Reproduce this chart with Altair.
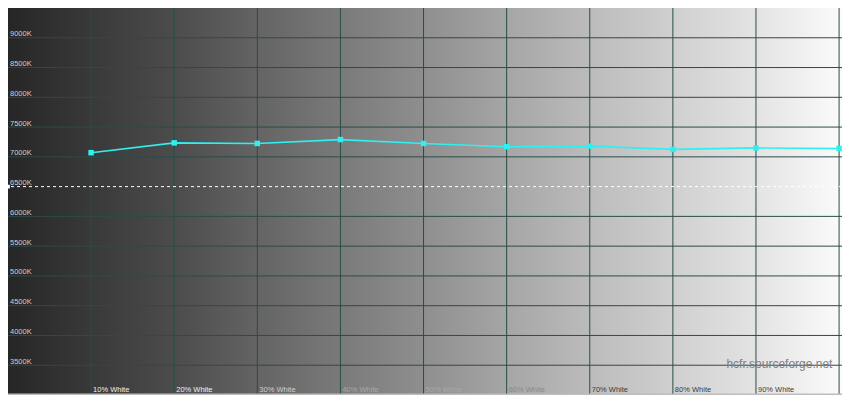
import altair as alt
import pandas as pd

# ---- data ----
levels = [10, 20, 30, 40, 50, 60, 70, 80, 90, 100]
temps = [7070, 7235, 7225, 7290, 7225, 7170, 7180, 7125, 7150, 7140]
y_ticks = [3500, 4000, 4500, 5000, 5500, 6000, 6500, 7000, 7500, 8000, 8500, 9000]
y_labels = [f"{v}K" for v in y_ticks]
x_ticks = [10, 20, 30, 40, 50, 60, 70, 80, 90]
x_labels = [f"{v}% White" for v in x_ticks]
grid_x = [10, 20, 30, 40, 50, 60, 70, 80, 90, 100]
ref_temp = 6500
watermark = "hcfr.sourceforge.net"

W, H = 834, 387
X_MAX = 100.35
Y_MIN, Y_MAX = 3000, 9500

xs = alt.Scale(domain=[0, X_MAX], nice=False, zero=False)
ys = alt.Scale(domain=[Y_MIN, Y_MAX], nice=False, zero=False)

font = "Liberation Sans"

# background gradient
bg_df = pd.DataFrame({"x": [0], "x2": [X_MAX], "y": [Y_MIN], "y2": [Y_MAX]})
grad = alt.Gradient(
    gradient="linear",
    stops=[
        alt.GradientStop(color="#262626", offset=0.0),
        alt.GradientStop(color="#4c4c4c", offset=0.2),
        alt.GradientStop(color="#646464", offset=0.3),
        alt.GradientStop(color="#7a7a7a", offset=0.4),
        alt.GradientStop(color="#8f8f8f", offset=0.5),
        alt.GradientStop(color="#a6a6a6", offset=0.6),
        alt.GradientStop(color="#bcbcbc", offset=0.7),
        alt.GradientStop(color="#d0d0d0", offset=0.8),
        alt.GradientStop(color="#e4e4e4", offset=0.9),
        alt.GradientStop(color="#fbfbfb", offset=1.0),
    ],
    x1=0, x2=1, y1=0, y2=0,
)
bg = alt.Chart(bg_df).mark_rect(fill=grad, strokeWidth=0).encode(
    x=alt.X("x:Q", scale=xs, axis=None),
    x2="x2:Q",
    y=alt.Y("y:Q", scale=ys, axis=None),
    y2="y2:Q",
)

grid_color = "#2b4d47"
vgrid = alt.Chart(pd.DataFrame({"x": grid_x})).mark_rule(
    color=grid_color, strokeWidth=1
).encode(x=alt.X("x:Q", scale=xs, axis=None))

hgrid_df = pd.DataFrame({"y": [v for v in y_ticks if v != ref_temp]})
hgrid = alt.Chart(hgrid_df).mark_rule(color=grid_color, strokeWidth=1).encode(
    y=alt.Y("y:Q", scale=ys, axis=None)
)

bottom = alt.Chart(pd.DataFrame({"y": [Y_MIN]})).mark_rule(
    color="#bdbdbd", strokeWidth=3
).encode(y=alt.Y("y:Q", scale=ys, axis=None))

ref_line = alt.Chart(pd.DataFrame({"y": [ref_temp]})).mark_rule(
    color="#ffffff", strokeWidth=1, strokeDash=[3, 3]
).encode(y=alt.Y("y:Q", scale=ys, axis=None))

ref_mark = alt.Chart(pd.DataFrame({"x": [0], "y": [ref_temp]})).mark_point(
    shape="square", filled=True, size=14, color="#ffffff", opacity=1
).encode(
    x=alt.X("x:Q", scale=xs, axis=None),
    y=alt.Y("y:Q", scale=ys, axis=None),
)

ylab_df = pd.DataFrame({"x": [0] * len(y_ticks), "y": y_ticks, "t": y_labels})
ylab = alt.Chart(ylab_df).mark_text(
    align="left", baseline="alphabetic", dx=2, dy=-1.5,
    font=font, fontSize=7.5, color="#cfcfcf"
).encode(
    x=alt.X("x:Q", scale=xs, axis=None),
    y=alt.Y("y:Q", scale=ys, axis=None),
    text="t:N",
)

xlab_df = pd.DataFrame({"x": x_ticks, "y": [Y_MIN] * len(x_ticks), "t": x_labels})
xlab = alt.Chart(xlab_df).transform_calculate(
    lc="datum.x <= 20 ? '#f0f0f0' : datum.x <= 30 ? '#d0d0d0' : datum.x <= 50 ? '#a8a8a8' : datum.x <= 60 ? '#8a8a8a' : '#3c3c3c'"
).mark_text(
    align="left", baseline="alphabetic", dx=2, dy=-3,
    font=font, fontSize=7.5
).encode(
    x=alt.X("x:Q", scale=xs, axis=None),
    y=alt.Y("y:Q", scale=ys, axis=None),
    text="t:N",
    color=alt.Color("lc:N", scale=None),
)

data = pd.DataFrame({"level": levels, "temp": temps})
cyan = "#2ef0f0"
line = alt.Chart(data).mark_line(color=cyan, strokeWidth=1.6).encode(
    x=alt.X("level:Q", scale=xs, axis=None),
    y=alt.Y("temp:Q", scale=ys, axis=None),
)
pts = alt.Chart(data).mark_point(
    shape="square", filled=True, size=30, color=cyan, opacity=1
).encode(
    x=alt.X("level:Q", scale=xs, axis=None),
    y=alt.Y("temp:Q", scale=ys, axis=None),
)

wm = alt.Chart(pd.DataFrame({"x": [99.2], "y": [3500], "t": [watermark]})).mark_text(
    align="right", baseline="middle", dy=-1, font=font, fontSize=12, color="#808080"
).encode(
    x=alt.X("x:Q", scale=xs, axis=None),
    y=alt.Y("y:Q", scale=ys, axis=None),
    text="t:N",
)

chart = alt.layer(
    bg, vgrid, hgrid, bottom, ref_line, ref_mark, ylab, xlab, line, pts, wm
).properties(
    width=W, height=H, padding=0, background="white",
    autosize=alt.AutoSizeParams(type="none"),
).configure_view(stroke=None)

chart.save("out.html", embed_options={"renderer": "svg", "actions": False})
